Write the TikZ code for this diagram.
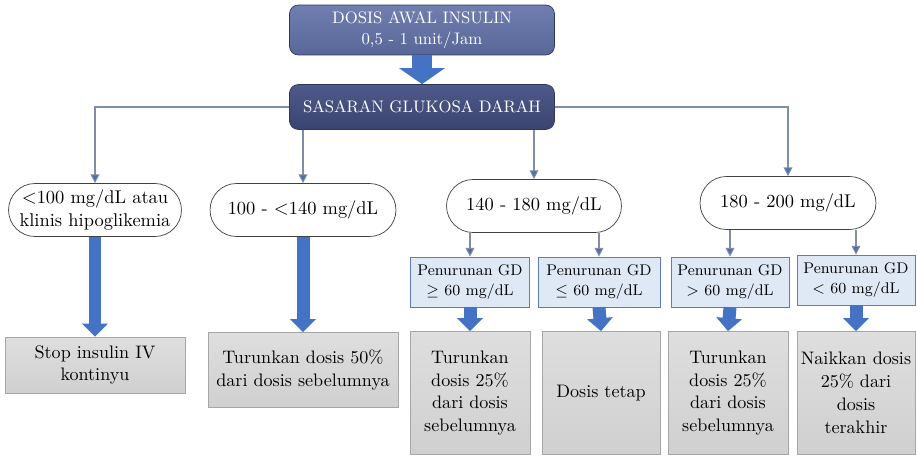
\documentclass[tikz,border=0pt]{standalone}
\usepackage{amssymb}
\usetikzlibrary{arrows.meta,shapes.misc,positioning}
\definecolor{headblue}{RGB}{88,102,152}
\definecolor{headtop}{RGB}{112,126,176}
\definecolor{navy}{RGB}{58,68,112}
\definecolor{navytop}{RGB}{78,90,138}
\definecolor{arrowblue}{RGB}{68,114,196}
\definecolor{linkgray}{RGB}{128,140,170}
\definecolor{tipblue}{RGB}{79,110,168}
\definecolor{paleblue}{RGB}{223,233,246}
\definecolor{boxedge}{RGB}{96,124,180}
\definecolor{resgray}{RGB}{208,208,208}

\begin{document}
\begin{tikzpicture}[x=0.02cm,y=-0.02cm,
    headbox/.style={draw=navy!80!black, rounded corners=5pt, text=white, align=center,
      top color=headtop, bottom color=headblue, font=\fontsize{9.5}{12}\selectfont,
      minimum width=5.3cm, minimum height=1cm},
    goalbox/.style={headbox, top color=navytop, bottom color=navy, minimum height=0.9cm},
    gdrange/.style={draw=black!75, rounded rectangle, fill=white, align=center,
      font=\fontsize{10.5}{13}\selectfont, minimum height=1.06cm, inner sep=2pt},
    penbox/.style={draw=boxedge, fill=paleblue, align=center, font=\fontsize{8.8}{11}\selectfont,
      minimum width=2.38cm, minimum height=1cm, inner sep=1pt},
    resbox/.style={draw=black!35, top color=resgray!70, bottom color=resgray, align=center,
      font=\fontsize{10.3}{13}\selectfont, inner sep=2pt},
    link/.style={draw=linkgray, semithick, -{Triangle[length=5pt,width=5pt,fill=tipblue]}},
    bigarrow/.style={draw=arrowblue, line width=0.26cm, -{Triangle[length=0.26cm,width=0.5cm]}},
  ]
  \useasboundingbox (0,0) rectangle (917,457);

  % header
  \node[headbox] (awal) at (422,30) {DOSIS AWAL INSULIN\\0,5 - 1 unit/Jam};
  \node[goalbox] (sasaran) at (422,107) {SASARAN GLUKOSA DARAH};
  \draw[draw=arrowblue, line width=0.4cm, -{Triangle[length=0.32cm,width=0.9cm]}] (awal.south) -- (sasaran.north);

  % ranges
  \node[gdrange, minimum width=3.6cm] (low) at (95,210) {$<$100 mg/dL atau\\klinis hipoglikemia};
  \node[gdrange, minimum width=3.86cm] (mid) at (303,210) {100 - $<$140 mg/dL};
  \node[gdrange, minimum width=3.64cm] (high) at (534,206) {140 - 180 mg/dL};
  \node[gdrange, minimum width=3.66cm] (vhigh) at (788,203) {180 - 200 mg/dL};

  \draw[link] (sasaran.west) -| (low.north);
  \draw[link] (mid.north |- sasaran.south) -- (mid.north);
  \draw[link] (high.north |- sasaran.south) -- (high.north);
  \draw[link] (sasaran.east) -| (vhigh.north);

  % drops
  \node[penbox] (dropA) at (470,282) {Penurunan GD\\$\geq$ 60 mg/dL};
  \node[penbox, minimum width=2.44cm] (dropB) at (599,282) {Penurunan GD\\$\leq$ 60 mg/dL};
  \node[penbox, minimum width=2.36cm] (dropC) at (730,282) {Penurunan GD\\$>$ 60 mg/dL};
  \node[penbox, minimum width=2.36cm] (dropD) at (856,280) {Penurunan GD\\$<$ 60 mg/dL};

  \draw[link] (dropA.north |- high.south) -- (dropA.north);
  \draw[link] (dropB.north |- high.south) -- (dropB.north);
  \draw[link] (dropC.north |- vhigh.south) -- (dropC.north);
  \draw[link] (dropD.north |- vhigh.south) -- (dropD.north);

  % results
  \node[resbox, minimum width=3.6cm, minimum height=1.12cm] (stop) at (95,365) {Stop insulin IV\\kontinyu};
  \node[resbox, minimum width=3.8cm, minimum height=1.5cm] (half) at (303,370) {Turunkan dosis 50\%\\dari dosis sebelumnya};
  \node[resbox, minimum width=2.4cm, minimum height=2.46cm] (quarterA) at (470,393) {Turunkan\\dosis 25\%\\dari dosis\\sebelumnya};
  \node[resbox, minimum width=2.36cm, minimum height=2.46cm] (keep) at (601,393) {Dosis tetap};
  \node[resbox, minimum width=2.4cm, minimum height=2.46cm] (quarterB) at (728,393) {Turunkan\\dosis 25\%\\dari dosis\\sebelumnya};
  \node[resbox, minimum width=2.36cm, minimum height=2.46cm] (raise) at (856,393) {Naikkan dosis\\25\% dari\\dosis\\terakhir};

  \draw[bigarrow] (low.south) -- (stop.north);
  \draw[bigarrow] (mid.south) -- (half.north);
  \draw[bigarrow] (dropA.south) -- (quarterA.north);
  \draw[bigarrow] (dropB.south) -- (keep.north);
  \draw[bigarrow] (dropC.south) -- (quarterB.north);
  \draw[bigarrow] (dropD.south) -- (raise.north);
\end{tikzpicture}
\end{document}
